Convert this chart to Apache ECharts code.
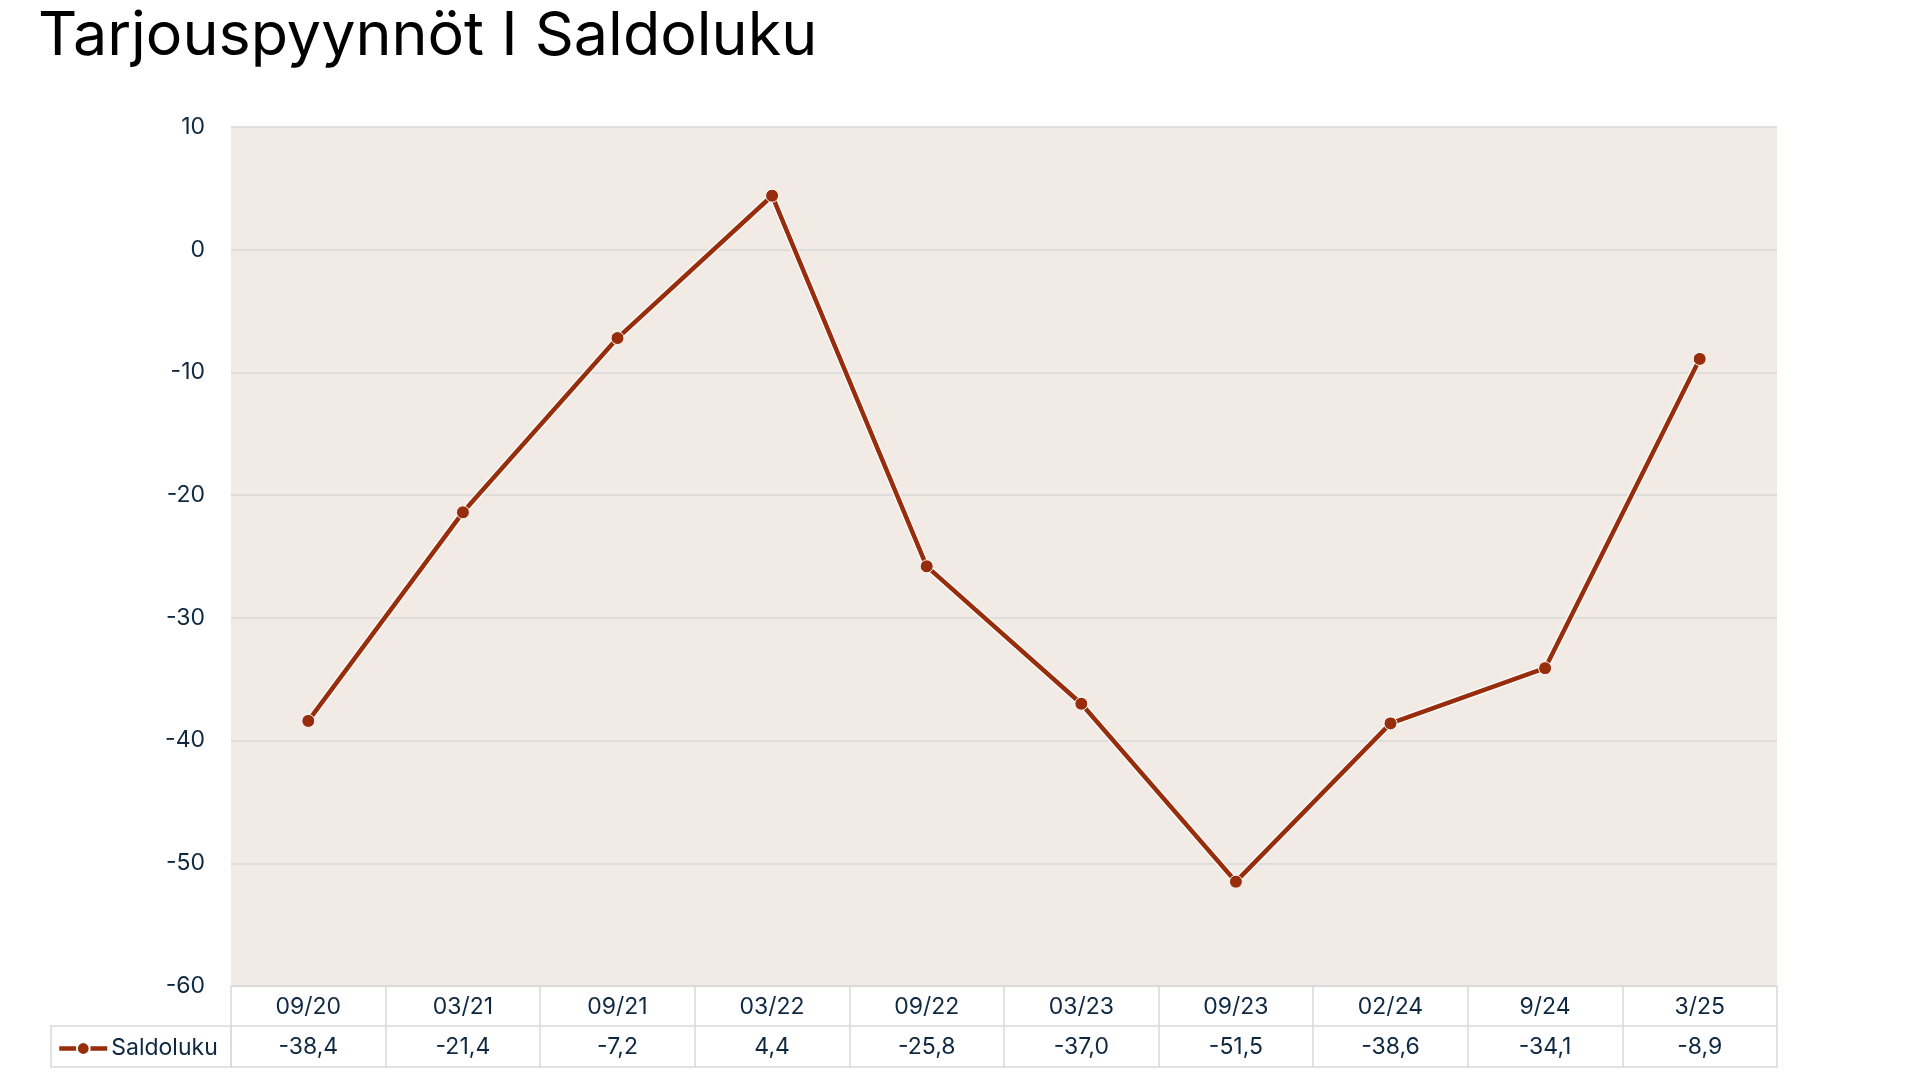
<!DOCTYPE html>
<html>
<head>
<meta charset="utf-8">
<script src="https://cdn.jsdelivr.net/npm/echarts@6/dist/echarts.min.js"></script>
<style>
html,body{margin:0;padding:0;background:#fff;}
#c{width:1920px;height:1080px;}
</style>
</head>
<body>
<div id="c"></div>
<script>
const titleText = 'Tarjouspyynnöt I Saldoluku';
const seriesName = 'Saldoluku';
const categories = ['09/20','03/21','09/21','03/22','09/22','03/23','09/23','02/24','9/24','3/25'];
const values = [-38.4, -21.4, -7.2, 4.4, -25.8, -37.0, -51.5, -38.6, -34.1, -8.9];
const yMin = -60, yMax = 10, yStep = 10;

const valueLabels = values.map(v => v.toFixed(1).replace('.', ','));
const textColor = '#0E2841';
const gridColor = '#d9d9d9';
const lineColor = '#982d0b';
const font = 'Inter, "Open Sans", sans-serif';

const chart = echarts.init(document.getElementById('c'), null, {renderer: 'canvas'});
chart.setOption({
  animation: false,
  backgroundColor: '#ffffff',
  title: {
    text: titleText,
    left: 33, top: 1,
    textStyle: {fontFamily: font, fontSize: 61, fontWeight: 'normal', color: '#000000'}
  },
  grid: {
    left: 231, right: 143, top: 127, bottom: 94,
    show: true, backgroundColor: '#f2ebe5', borderWidth: 0
  },
  legend: {
    data: [seriesName],
    left: 52, top: 1032,
    itemWidth: 48, itemHeight: 16, itemGap: 4,
    lineStyle: {width: 4.5},
    textStyle: {fontFamily: font, fontSize: 23, color: textColor, padding: [0,0,0,-1]}
  },
  xAxis: [
    {
      type: 'category', data: categories, position: 'bottom', boundaryGap: true,
      axisLine: {show: true, onZero: false, lineStyle: {color: gridColor, width: 1.5}},
      axisTick: {show: true, length: 40, interval: 0, lineStyle: {color: gridColor, width: 1.5}},
      axisLabel: {margin: 10, interval: 0, fontFamily: font, fontSize: 23, color: textColor},
      splitLine: {show: false}
    },
    {
      type: 'category', data: valueLabels, position: 'bottom', offset: 40, boundaryGap: true,
      axisLine: {show: true, onZero: false, lineStyle: {color: gridColor, width: 1.5}},
      axisTick: {show: true, length: 41, interval: 0, lineStyle: {color: gridColor, width: 1.5}},
      axisLabel: {margin: 10, interval: 0, fontFamily: font, fontSize: 23, color: textColor},
      splitLine: {show: false}
    },
    {
      type: 'category', data: categories, position: 'bottom', offset: 81, boundaryGap: true,
      axisLine: {show: true, onZero: false, lineStyle: {color: gridColor, width: 1.5}},
      axisTick: {show: false},
      axisLabel: {show: false},
      splitLine: {show: false}
    }
  ],
  yAxis: {
    type: 'value', min: yMin, max: yMax, interval: yStep,
    axisLine: {show: false}, axisTick: {show: false},
    axisLabel: {margin: 26, fontFamily: font, fontSize: 23, color: textColor},
    splitLine: {show: true, lineStyle: {color: gridColor, width: 1.5}}
  },
  graphic: [
    {
      type: 'rect', z: 10,
      shape: {x: 51, y: 1026, width: 180, height: 41},
      style: {fill: 'none', stroke: gridColor, lineWidth: 1.5}
    }
  ],
  series: [
    {
      name: 'outline', type: 'line', data: values, xAxisIndex: 0,
      symbol: 'none', silent: true, z: 2,
      lineStyle: {color: '#ffffff', width: 7}
    },
    {
      name: seriesName, type: 'line', data: values, xAxisIndex: 0, z: 3,
      symbol: 'circle', symbolSize: 13,
      lineStyle: {color: lineColor, width: 4.5},
      itemStyle: {color: lineColor, borderColor: '#ffffff', borderWidth: 1}
    }
  ]
});
</script>
</body>
</html>
